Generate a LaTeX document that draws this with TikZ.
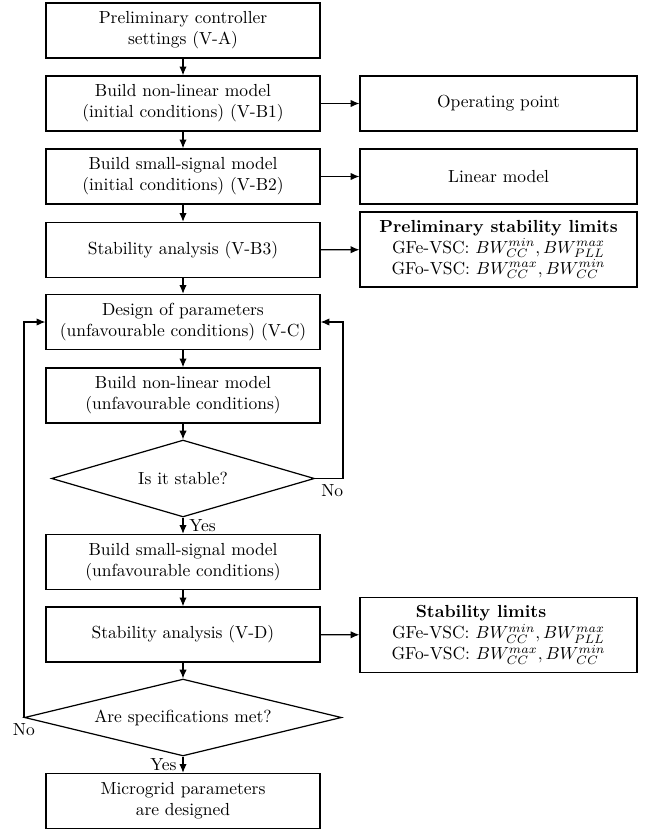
\documentclass[tikz,border=0pt]{standalone}
\usepackage{amsmath}
\usepackage{amssymb}
\usetikzlibrary{arrows,arrows.meta,positioning,shapes.geometric}

\begin{document}
\begin{tikzpicture}[x=0.572pt,y=-0.572pt,
  block/.style={draw,line width=0.7pt,rectangle,align=center,minimum width=156.7pt,minimum height=31.5pt,inner sep=2pt},
  result/.style={draw,line width=0.7pt,rectangle,align=center,minimum width=158.4pt,minimum height=31.5pt,inner sep=2pt},
  decision/.style={draw,line width=0.7pt,diamond,aspect=3,inner sep=0pt,minimum height=44pt},
  arr/.style={-{Latex[length=5pt,width=4.2pt]},line width=0.7pt}]
\useasboundingbox (0,0) rectangle (647,830);
% main column
\node [block] (settings) at (183,30.5) {Preliminary controller\\settings (V-A)};
\node [block] (nonlin) at (183,103.5) {Build non-linear model\\(initial conditions) (V-B1)};
\node [block] (smallsig) at (183,176.5) {Build small-signal model\\(initial conditions) (V-B2)};
\node [block] (stab) at (183,250) {Stability analysis (V-B3)};
\node [block] (design) at (183,322) {Design of parameters\\(unfavourable conditions) (V-C)};
\node [block] (nonlinu) at (183,395.5) {Build non-linear model\\(unfavourable conditions)};
\node [decision,minimum width=150.4pt] (stable) at (183,478.5) {Is it stable?};
\node [block] (smallsigu) at (183,562) {Build small-signal model\\(unfavourable conditions)};
\node [block] (stabu) at (183,634.5) {Stability analysis (V-D)};
\node [decision,minimum width=181.3pt] (specs) at (183,717.5) {Are specifications met?};
\node [block] (done) at (183,801) {Microgrid parameters\\are designed};
% outputs
\node [result] (oppoint) at (498.5,103.5) {Operating point};
\node [result] (linmodel) at (498.5,176.5) {Linear model};
\node [result,minimum height=42.9pt] (prelim) at (498.5,249.5) {\textbf{Preliminary stability limits}\\
  GFe-VSC: $BW_{CC}^{min}, BW_{PLL}^{max}$\\GFo-VSC: $BW_{CC}^{max}, BW_{CC}^{min}$};
\node [result,minimum height=42.9pt] (limits) at (498.5,635) {\textbf{Stability limits}\hspace*{20pt}\\
  GFe-VSC: $BW_{CC}^{min}, BW_{PLL}^{max}$\\GFo-VSC: $BW_{CC}^{max}, BW_{CC}^{min}$};
% flow
\draw [arr] (settings) -- (nonlin);
\draw [arr] (nonlin) -- (smallsig);
\draw [arr] (smallsig) -- (stab);
\draw [arr] (stab) -- (design);
\draw [arr] (design) -- (nonlinu);
\draw [arr] (nonlinu) -- (stable);
\draw [arr] (stable) -- node[right] {Yes} (smallsigu);
\draw [arr] (smallsigu) -- (stabu);
\draw [arr] (stabu) -- (specs);
\draw [arr] (specs) -- node[left] {Yes} (done);
\draw [arr] (nonlin) -- (oppoint);
\draw [arr] (smallsig) -- (linmodel);
\draw [arr] (stab) -- (prelim);
\draw [arr] (stabu) -- (limits);
% loops back
\draw [arr] (stable.east) -- ++(28,0) |- (design.east);
\draw [arr] (specs.west) |- (design.west);
\node [below right] at (stable.east) {No};
\node [below] at (specs.west) {No};
\end{tikzpicture}
\end{document}
